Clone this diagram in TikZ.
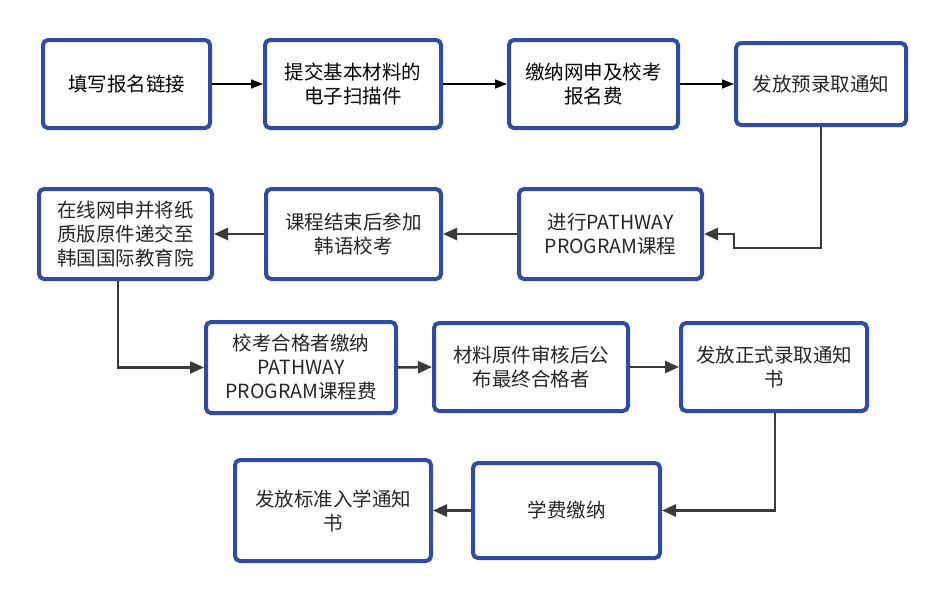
\documentclass[tikz,border=0pt]{standalone}
\usepackage{fontspec}
\setmainfont{Noto Sans CJK SC}
\usetikzlibrary{arrows.meta}
\definecolor{bordercol}{HTML}{2F4BA6}
\definecolor{txtcol}{HTML}{262626}
\definecolor{conncol}{HTML}{3A3A3A}
\begin{document}
\begin{tikzpicture}[x=1pt,y=-1pt,
  box/.style={draw=bordercol, line width=4pt, rounded corners=5pt, fill=white,
    align=center, text=txtcol, inner sep=2pt, font=\fontsize{19.5}{24}\selectfont},
  conn/.style={draw=conncol, line width=2.5pt, -{Triangle[length=14pt,width=12pt]}},
  thinconn/.style={draw=black, line width=1.5pt, -{Triangle[length=12pt,width=9pt]}}]
\fill[white] (0,0) rectangle (945,600);
\useasboundingbox (0,0) rectangle (945,600);

\node[box, minimum width=167pt, minimum height=88pt, text=black] (a) at (126.5,84) {填写报名链接};
\node[box, minimum width=176pt, minimum height=88pt, text=black] (b) at (353,84) {提交基本材料的\\电子扫描件};
\node[box, minimum width=169pt, minimum height=88pt, text=black] (c) at (593.5,84) {缴纳网申及校考\\报名费};
\node[box, minimum width=170pt, minimum height=82pt] (d) at (821,84) {发放预录取通知};

\node[box, minimum width=173pt, minimum height=90pt] (e) at (125.5,234) {在线网申并将纸\\质版原件递交至\\韩国国际教育院};
\node[box, minimum width=175pt, minimum height=90pt] (f) at (353.5,234) {课程结束后参加\\韩语校考};
\node[box, minimum width=183pt, minimum height=90pt] (g) at (610.5,234) {进行PATHWAY\\PROGRAM课程};

\node[box, minimum width=190pt, minimum height=91pt] (h) at (301,367.5) {校考合格者缴纳\\PATHWAY\\PROGRAM课程费};
\node[box, minimum width=194pt, minimum height=88pt] (i) at (531,367) {材料原件审核后公\\布最终合格者};
\node[box, minimum width=186pt, minimum height=88pt] (j) at (774,367) {发放正式录取通知\\书};

\node[box, minimum width=196pt, minimum height=101pt] (k) at (333,510.5) {发放标准入学通知\\书};
\node[box, minimum width=187pt, minimum height=95pt] (l) at (566.5,510.5) {学费缴纳};

\draw[thinconn] (a.east) -- (b.west);
\draw[thinconn] (b.east) -- (c.west);
\draw[thinconn] (c.east) -- (d.west);

\coordinate (dg) at (734,248);
\draw[conn] (d.south) |- (dg) |- (g.east);
\draw[conn] (g.west) -- (f.east);
\draw[conn] (f.west) -- (e.east);

\draw[conn] ([xshift=-7.5pt]e.south) |- (h.west);
\draw[conn] (h.east) -- (i.west);
\draw[conn] (i.east) -- (j.west);

\draw[conn] ([xshift=1pt]j.south) |- (l.east);
\draw[conn] (l.west) -- (k.east);
\end{tikzpicture}
\end{document}
